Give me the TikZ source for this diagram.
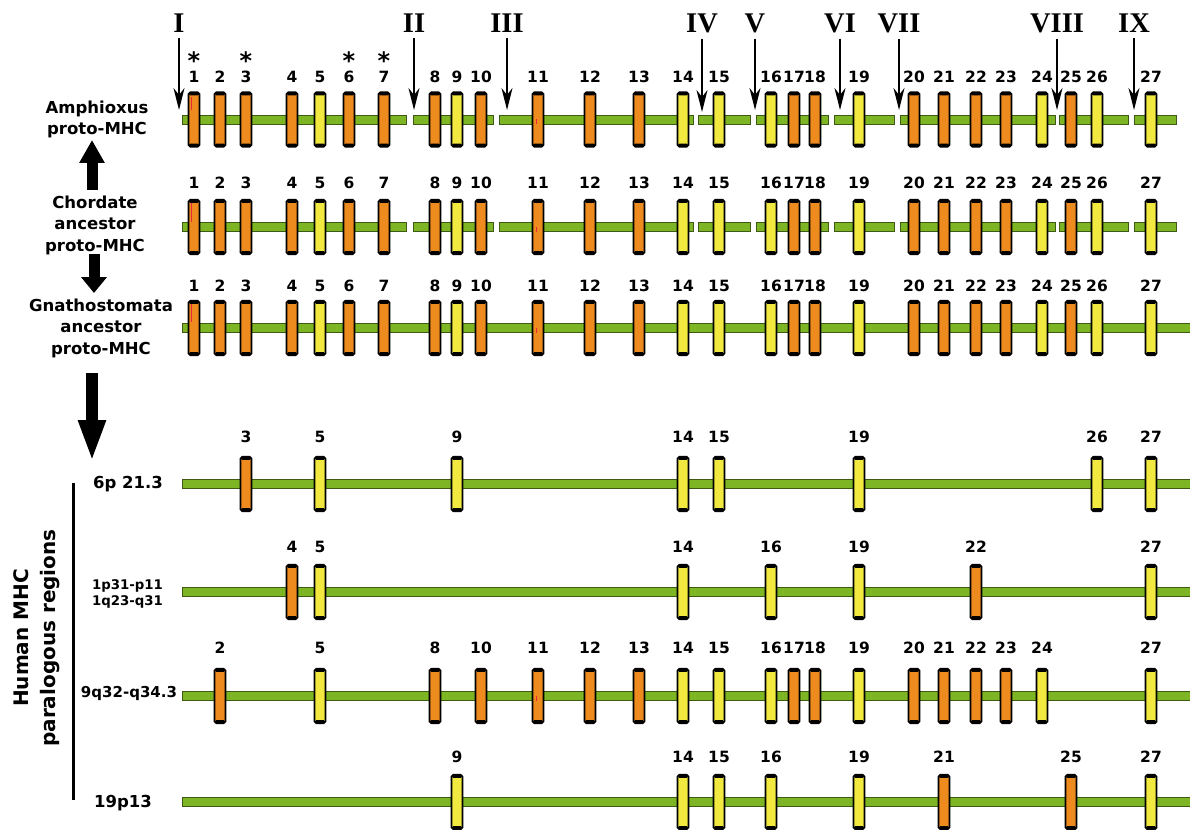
\documentclass[tikz,border=0pt]{standalone}
\usepackage{fontspec}
\setmainfont{DejaVu Sans}
\newfontfamily\romfont{Liberation Serif}
\usetikzlibrary{arrows.meta}
\definecolor{geneO}{HTML}{EE8B1E}
\definecolor{geneY}{HTML}{F1E940}
\definecolor{barG}{HTML}{7DB524}
\definecolor{barD}{HTML}{3E5A14}
\definecolor{markR}{HTML}{E8283C}
% gene x positions and colours
\foreach \n/\x in {1/194,2/220,3/246,4/292,5/320,6/349,7/384,8/435,9/457,10/481,11/538,12/590,13/639,14/683,15/719,16/771,17/794,18/815,19/859,20/914,21/944,22/976,23/1006,24/1042,25/1071,26/1097,27/1151}{\expandafter\xdef\csname gx\n\endcsname{\x}}
\foreach \n in {1,...,27}{\expandafter\gdef\csname gc\n\endcsname{geneO}}
\foreach \n in {5,9,14,15,16,19,24,26,27}{\expandafter\gdef\csname gc\n\endcsname{geneY}}
\tikzset{
  gene/.style={draw=black, line width=1.8pt, rounded corners=1.8pt,
    minimum width=11pt, minimum height=54.5pt, inner sep=0pt,
    path picture={
      \fill[black] (path picture bounding box.north west) rectangle ([yshift=-3.2pt]path picture bounding box.north east);
      \fill[black] (path picture bounding box.south west) rectangle ([yshift=3.2pt]path picture bounding box.south east);}},
  num/.style={font=\bfseries\fontsize{15.5}{16}\selectfont, inner sep=0pt},
  bar/.style={fill=barG, draw=barD, line width=0.9pt},
  roman/.style={font=\romfont\bfseries\fontsize{28.5}{30}\selectfont, inner sep=0pt, anchor=base},
  rarrow/.style={line width=1.8pt, -{Stealth[length=22pt,width=11pt,inset=7pt]}, shorten <=5pt},
  bigarrow/.style={line width=11pt, -{Triangle[length=23pt,width=24pt]}},
  lbl/.style={font=\bfseries\fontsize{16.5}{21}\selectfont, align=center, inner sep=0pt},
  astk/.style={font=\bfseries\fontsize{24}{24}\selectfont, inner sep=0pt, anchor=base},
  redmark/.style={draw=markR, line width=1.3pt}
}
\newcommand\generow[4]{%
  \foreach \n in {#4}{%
    \edef\gxx{\csname gx\n\endcsname}\edef\gcc{\csname gc\n\endcsname}%
    \node[gene, fill=\gcc] (#1g\n) at (\gxx,#2) {};
    \node[num] (#1n\n) at (\gxx,#3) {\n};
  }}
\begin{document}
\begin{tikzpicture}[x=1pt, y=-1pt]
\useasboundingbox (0,0) rectangle (1190,829);
\fill[white] (0,0) rectangle (1190,829);

% ---- bars
\foreach \a/\b in {182/406, 413/493, 499/693, 698/750, 756/828, 834/894, 900/1055, 1059/1128, 1134/1176}{
  \draw[bar] (\a,115) rectangle (\b,124);
  \draw[bar] (\a,222.5) rectangle (\b,231.5);
}
\draw[bar] (182,323.5) rectangle (1194,332.5);
\draw[bar] (182,479.5) rectangle (1194,488.5);
\draw[bar] (182,587.5) rectangle (1194,596.5);
\draw[bar] (182,691.5) rectangle (1194,700.5);
\draw[bar] (182,797.5) rectangle (1194,806.5);

% ---- gene rows
\generow{ra}{119.5}{77}{1,...,27}
\generow{rb}{227}{183}{1,...,27}
\generow{rc}{328}{286}{1,...,27}
\generow{rd}{484}{437}{3,5,9,14,15,19,26,27}
\generow{re}{592}{547}{4,5,14,16,19,22,27}
\generow{rf}{696}{648}{2,5,8,10,11,12,13,14,15,16,17,18,19,20,21,22,23,24,27}
\generow{rg}{802}{757}{9,14,15,16,19,21,25,27}

% small red marks
\draw[redmark] (191.5,97) -- (191.5,110);
\draw[redmark] (191.5,203) -- (191.5,222);
\draw[redmark] (191.5,304) -- (191.5,322);
\foreach \y in {121,229,330,698}{\fill[markR] (535.5,\y-2) rectangle (537,\y+3);}

% asterisks
\foreach \n in {1,3,6,7}{
  \edef\gxx{\csname gx\n\endcsname}
  \node[astk] (ast\n) at (\gxx,69.5) {*};
}

% ---- roman numerals with arrows
\foreach \r/\x/\t in {I/179/110, II/414/110, III/507/110, IV/702/112, V/755/110, VI/840/110, VII/899/110, VIII/1057/110, IX/1134/110}{
  \node[roman] (lab\r) at (\x,33) {\r};
  \coordinate (tip\r) at (\x,\t);
  \draw[rarrow] (lab\r.south) -- (tip\r);
}

% ---- left labels
\node[lbl] (amph) at (97,119) {Amphioxus\\proto-MHC};
\node[lbl, font=\bfseries\fontsize{16.5}{21.5}\selectfont] (chord) at (95,225) {Chordate\\ancestor\\proto-MHC};
\node[lbl, font=\bfseries\fontsize{16.5}{21.5}\selectfont] (gnath) at (101,328) {Gnathostomata\\ancestor\\proto-MHC};

\coordinate (upS) at (92,190);
\coordinate (upT) at (92,140);
\draw[bigarrow] (upS) -- (upT);
\coordinate (dnS) at (94,254);
\coordinate (dnT) at (94,293);
\draw[line width=11pt, -{Triangle[length=16pt,width=25pt]}] (dnS) -- (dnT);
\coordinate (bigS) at (92,373);
\coordinate (bigT) at (92,462);
\draw[line width=12pt, -{Triangle[length=42pt,width=25pt]}] (bigS) -- (bigT);

% ---- human paralogous regions
\node[font=\bfseries\fontsize{20}{27}\selectfont, align=center, rotate=90, inner sep=0pt] (human) at (36.4,638) {Human MHC\\paralogous regions};
\coordinate (brT) at (73,483);
\coordinate (brB) at (73,800);
\draw[line width=3pt] (brT) -- (brB);

\node[lbl, anchor=base] (c6) at (128,488) {6p 21.3};
\node[font=\bfseries\fontsize{13.3}{16}\selectfont, align=center, inner sep=0pt] (c1) at (127.5,593.5) {1p31-p11\\1q23-q31};
\node[font=\bfseries\fontsize{15}{16}\selectfont, inner sep=0pt, anchor=base] (c9) at (129,697) {9q32-q34.3};
\node[lbl, anchor=base] (c19) at (123,807) {19p13};
\end{tikzpicture}
\end{document}
